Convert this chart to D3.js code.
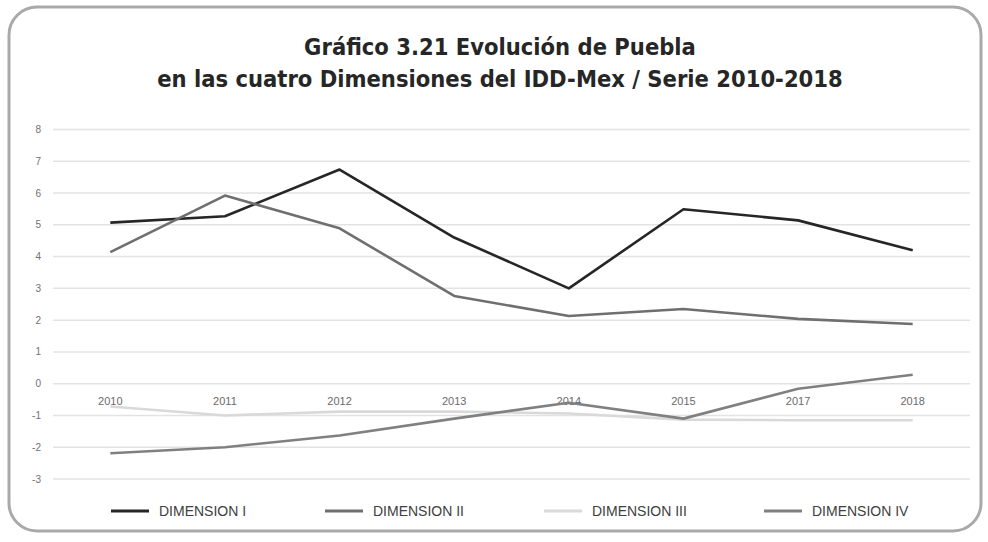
<!DOCTYPE html>
<html>
<head>
<meta charset="utf-8">
<script src="https://cdn.jsdelivr.net/npm/d3@7"></script>
<style>
  body { margin: 0; background: #fff; }
  svg { display: block; }
</style>
</head>
<body>
<svg id="chart" width="988" height="542"></svg>
<script>
const years = ["2010", "2011", "2012", "2013", "2014", "2015", "2017", "2018"]
const dimI = [5.07, 5.27, 6.74, 4.6, 3.0, 5.49, 5.14, 4.2]
const dimII = [4.14, 5.92, 4.89, 2.76, 2.13, 2.35, 2.04, 1.88]
const dimIII = [-0.72, -1.0, -0.88, -0.88, -0.94, -1.13, -1.15, -1.15]
const dimIV = [-2.19, -2.0, -1.63, -1.1, -0.6, -1.1, -0.16, 0.28]
const yTicks = [-3, -2, -1, 0, 1, 2, 3, 4, 5, 6, 7, 8]
const seriesNames = ["DIMENSION I", "DIMENSION II", "DIMENSION III", "DIMENSION IV"]
const seriesColors = ["#262626", "#6f6f6f", "#d9d9d9", "#808080"]
const titleLines = [
  "Gráfico 3.21 Evolución de Puebla",
  "en las cuatro Dimensiones del IDD-Mex / Serie 2010-2018"
]

const series = [dimI, dimII, dimIII, dimIV].map((values, i) => ({
  name: seriesNames[i],
  color: seriesColors[i],
  values: values
}))

const svg = d3.select("#chart")

// rounded frame
svg.append("rect")
  .attr("x", 9).attr("y", 7)
  .attr("width", 972).attr("height", 524)
  .attr("rx", 28).attr("ry", 28)
  .attr("fill", "#fff")
  .attr("stroke", "#a9a9a9")
  .attr("stroke-width", 3)

svg.append("g").selectAll("text")
  .data(titleLines)
  .enter()
  .append("text")
  .attr("x", 500)
  .attr("y", (d, i) => 55 + i * 32)
  .attr("text-anchor", "middle")
  .attr("font-family", "'DejaVu Sans Condensed', 'DejaVu Sans', sans-serif")
  .attr("font-weight", "bold")
  .attr("font-size", 23.5)
  .attr("fill", "#262626")
  .text((d) => d)

const x = d3.scalePoint().domain(years).range([53, 970]).padding(0.5)
const y = d3.scaleLinear().domain([-3, 8]).range([479, 129.5])

// grid
svg.append("g").selectAll("line")
  .data(yTicks)
  .enter()
  .append("line")
  .attr("x1", 53).attr("x2", 970)
  .attr("y1", (d) => y(d)).attr("y2", (d) => y(d))
  .attr("stroke", "#e3e3e3")
  .attr("stroke-width", 1.5)

// y labels
svg.append("g").selectAll("text")
  .data(yTicks)
  .enter()
  .append("text")
  .attr("x", 41)
  .attr("y", (d) => y(d) + 3.5)
  .attr("text-anchor", "end")
  .attr("font-family", "'Liberation Sans Narrow', 'Liberation Sans', sans-serif")
  .attr("font-size", 10)
  .attr("fill", "#707070")
  .text((d) => d)

// x labels sit just under the zero line
svg.append("g").selectAll("text")
  .data(years)
  .enter()
  .append("text")
  .attr("x", (d) => x(d))
  .attr("y", y(0) + 21)
  .attr("text-anchor", "middle")
  .attr("font-family", "'Liberation Sans Narrow', 'Liberation Sans', sans-serif")
  .attr("font-size", 11)
  .attr("fill", "#6a6a6a")
  .text((d) => d)

const line = d3.line()
  .x((d, i) => x(years[i]))
  .y((d) => y(d))

svg.append("g").selectAll("path")
  .data(series)
  .enter()
  .append("path")
  .attr("d", (s) => line(s.values))
  .attr("fill", "none")
  .attr("stroke", (s) => s.color)
  .attr("stroke-width", 2.6)
  .attr("stroke-linejoin", "round")

// legend
const legendX = [111, 325, 544, 764]
const legend = svg.append("g").selectAll("g")
  .data(series)
  .enter()
  .append("g")
  .attr("transform", (s, i) => `translate(${legendX[i]},511)`)
legend.append("line")
  .attr("x1", 0).attr("x2", 38)
  .attr("stroke", (s) => s.color)
  .attr("stroke-width", 3)
legend.append("text")
  .attr("x", 48)
  .attr("y", 5)
  .attr("font-family", "'Liberation Sans Narrow', 'Liberation Sans', sans-serif")
  .attr("font-size", 14)
  .attr("fill", "#404040")
  .text((s) => s.name)
</script>
</body>
</html>
